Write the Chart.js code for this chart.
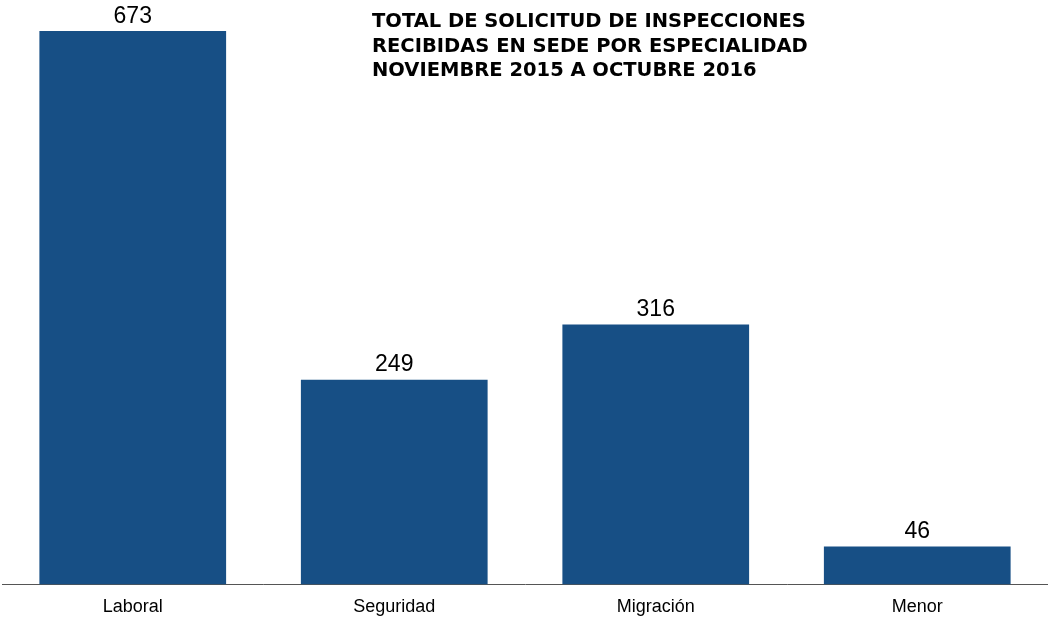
<!DOCTYPE html>
<html>
<head>
<meta charset="utf-8">
<script src="https://cdn.jsdelivr.net/npm/chart.js@4/dist/chart.umd.min.js"></script>
<style>
    html, body { margin: 0; padding: 0; background: #fff; overflow: hidden; }
    #wrap { position: relative; width: 1048px; height: 619px; overflow: hidden; }
    #title {
        position: absolute;
        left: 372px;
        top: 9px;
        font-family: "DejaVu Sans", Verdana, sans-serif;
        font-weight: bold;
        font-size: 19.5px;
        line-height: 24.5px;
        color: #000;
        white-space: nowrap;
    }
</style>
</head>
<body>
<div id="wrap">
    <canvas id="chart" width="1048" height="622"></canvas>
    <div id="title">TOTAL DE SOLICITUD DE INSPECCIONES<br>RECIBIDAS EN SEDE POR ESPECIALIDAD<br>NOVIEMBRE 2015 A OCTUBRE 2016</div>
</div>
<script>
// 数据
const categories = ['Laboral', 'Seguridad', 'Migración', 'Menor'];
const values = [673, 249, 316, 46];

// 柱顶数值标签
const valueLabels = {
    id: 'valueLabels',
    afterDatasetsDraw(chart) {
        const ctx = chart.ctx;
        const meta = chart.getDatasetMeta(0);
        ctx.save();
        ctx.font = '23px "Liberation Sans", Arial, sans-serif';
        ctx.fillStyle = '#000';
        ctx.textAlign = 'center';
        ctx.textBaseline = 'bottom';
        meta.data.forEach((bar, i) => {
            ctx.fillText(values[i], bar.x, bar.y - 3);
        });
        ctx.restore();
    }
};

const ctx = document.getElementById('chart').getContext('2d');
new Chart(ctx, {
    type: 'bar',
    data: {
        labels: categories,
        datasets: [{
            data: values,
            backgroundColor: '#174f85',
            barPercentage: 0.714,
            categoryPercentage: 1
        }]
    },
    options: {
        responsive: false,
        animation: false,
        layout: {
            padding: { top: 31, left: 2, right: 0, bottom: 0 }
        },
        plugins: {
            legend: { display: false },
            tooltip: { enabled: false }
        },
        scales: {
            y: {
                display: false,
                min: 0,
                max: 673
            },
            x: {
                grid: { display: false },
                border: { display: true, color: '#555', width: 1 },
                ticks: {
                    color: '#000',
                    padding: 4,
                    font: { family: '"Liberation Sans", Arial, sans-serif', size: 18 }
                }
            }
        }
    },
    plugins: [valueLabels]
});
</script>
</body>
</html>
